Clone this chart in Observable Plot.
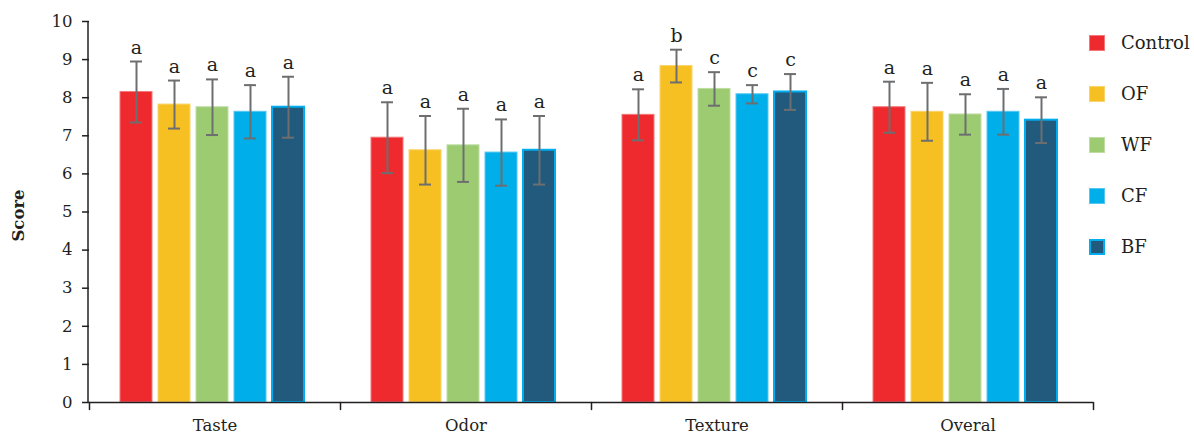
<!DOCTYPE html>
<html>
<head>
<meta charset="utf-8">
<script src="https://cdn.jsdelivr.net/npm/d3@7"></script>
<script src="https://cdn.jsdelivr.net/npm/@observablehq/plot@0.6"></script>
<style>
  html, body { margin: 0; padding: 0; background: #fff; }
  #wrap { position: relative; width: 1194px; height: 435px; font-family: "DejaVu Serif", serif; }
  #legend { position: absolute; left: 1089px; top: 35px; }
  .item { display: flex; align-items: center; height: 16px; margin-bottom: 35px; }
  .sw { width: 16px; height: 16px; box-sizing: border-box; margin-right: 16px; }
  .lab { font-size: 18px; color: #231f20; line-height: 16px; }
</style>
</head>
<body>
<div id="wrap"><div id="legend"></div></div>
<script>
const groups = ["Taste", "Odor", "Texture", "Overal"];
const series = ["Control", "OF", "WF", "CF", "BF"];
const colors = ["#ee2a2e", "#f7c022", "#9ccb72", "#00aeea", "#225a7e"];
const strokes = ["#f4787a", "#fad46b", "#bfdda4", "#57c7f0", "#00aeef"];

// mean scores per series, in group order
const meanControl = [8.15, 6.95, 7.55, 7.75];
const meanOF      = [7.82, 6.62, 8.83, 7.63];
const meanWF      = [7.75, 6.75, 8.23, 7.56];
const meanCF      = [7.63, 6.56, 8.09, 7.63];
const meanBF      = [7.75, 6.62, 8.15, 7.41];

// standard deviations
const sdControl = [0.80, 0.93, 0.67, 0.67];
const sdOF      = [0.63, 0.90, 0.43, 0.76];
const sdWF      = [0.73, 0.96, 0.44, 0.53];
const sdCF      = [0.70, 0.87, 0.24, 0.60];
const sdBF      = [0.80, 0.90, 0.47, 0.60];

// significance letters
const letControl = ["a", "a", "a", "a"];
const letOF      = ["a", "a", "b", "a"];
const letWF      = ["a", "a", "c", "a"];
const letCF      = ["a", "a", "c", "a"];
const letBF      = ["a", "a", "c", "a"];

const yTicks = [0, 1, 2, 3, 4, 5, 6, 7, 8, 9, 10];

const meanArr = [meanControl, meanOF, meanWF, meanCF, meanBF];
const sdArr = [sdControl, sdOF, sdWF, sdCF, sdBF];
const letArr = [letControl, letOF, letWF, letCF, letBF];

const data = [];
groups.forEach((g, gi) => {
  series.forEach((s, si) => {
    const m = meanArr[si][gi], sd = sdArr[si][gi];
    data.push({group: g, series: s, mean: m, lo: m - sd, hi: m + sd, letter: letArr[si][gi]});
  });
});

const font = "DejaVu Serif, serif";
const ink = "#231f20";
const errColor = "#6d6e70";
const tickShape = {draw(ctx, l) { ctx.moveTo(0, 0); ctx.lineTo(0, -l); }};

const chart = Plot.plot({
  width: 1194,
  height: 435,
  marginLeft: 88,
  marginRight: 100,
  marginTop: 21,
  marginBottom: 33,
  style: {fontFamily: font, fontSize: "16px", color: ink, background: "white"},
  fx: {domain: groups, paddingInner: 0, paddingOuter: 0, label: null},
  x: {domain: series, paddingInner: 0.16, paddingOuter: 0.87, align: 0.46, axis: null},
  y: {domain: [0, 10], label: null},
  color: {domain: series, range: colors},
  marks: [
    Plot.axisY({ticks: yTicks, tickSize: 7, tickPadding: 10, stroke: ink, strokeWidth: 1.5, strokeOpacity: 1, fontSize: 16.5, label: null}),
    Plot.axisFx({anchor: "bottom", tickSize: 0, tickPadding: 17, fontSize: 16.5, label: null}),
    Plot.barY(data, {fx: "group", x: "series", y: "mean", fill: "series",
      stroke: d => strokes[series.indexOf(d.series)], strokeWidth: d => d.series === "BF" ? 2 : 1}),
    Plot.ruleX(data, {fx: "group", x: "series", y1: "lo", y2: "hi", stroke: errColor, strokeWidth: 2}),
    Plot.tickY(data, {fx: "group", x: "series", y: "hi", stroke: errColor, strokeWidth: 2, insetLeft: 10, insetRight: 10}),
    Plot.tickY(data, {fx: "group", x: "series", y: "lo", stroke: errColor, strokeWidth: 2, insetLeft: 10, insetRight: 10}),
    Plot.text(data, {fx: "group", x: "series", y: "hi", text: "letter", lineAnchor: "bottom", dy: -8, fontSize: 19, fill: ink}),
    Plot.ruleY([0], {stroke: ink, strokeWidth: 1.5}),
    Plot.vector([0], {frameAnchor: "bottom-left", length: 7, rotate: 180, anchor: "start", stroke: ink, strokeWidth: 1.5, shape: tickShape}),
    Plot.vector(["Overal"], {fx: d => d, frameAnchor: "bottom-right", length: 7, rotate: 180, anchor: "start", stroke: ink, strokeWidth: 1.5, shape: tickShape})
  ]
});

const wrap = document.getElementById("wrap");
wrap.appendChild(chart);

// y-axis line and title, positioned from the plot's own y scale
const yScale = chart.scale("y");
const svg = d3.select(chart);
svg.append("line")
  .attr("x1", 88).attr("x2", 88)
  .attr("y1", yScale.apply(10)).attr("y2", yScale.apply(0))
  .attr("stroke", ink).attr("stroke-width", 1.5);
svg.append("text")
  .attr("transform", `translate(19,${(yScale.apply(10) + yScale.apply(0)) / 2 + 4}) rotate(-90)`)
  .attr("text-anchor", "middle").attr("dominant-baseline", "middle")
  .style("font-family", font).style("font-weight", "bold").style("font-size", "16.5px").attr("fill", ink)
  .text("Score");

const legend = document.getElementById("legend");
series.forEach((s, i) => {
  const it = document.createElement("div"); it.className = "item";
  const sw = document.createElement("div"); sw.className = "sw";
  sw.style.background = colors[i];
  sw.style.border = `1px solid ${strokes[i]}`;
  if (s === "BF") sw.style.border = `2px solid ${strokes[i]}`;
  const lab = document.createElement("span"); lab.className = "lab"; lab.textContent = s;
  it.appendChild(sw); it.appendChild(lab); legend.appendChild(it);
});
</script>
</body>
</html>
